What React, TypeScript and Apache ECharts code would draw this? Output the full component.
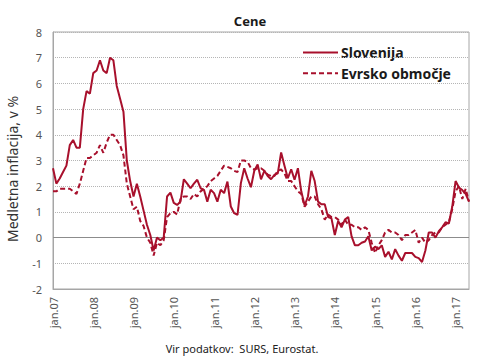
import React, { useEffect, useRef } from "react";
import * as echarts from "echarts";

const years = ["07", "08", "09", "10", "11", "12", "13", "14", "15", "16", "17"];
const monthNames = ["jan", "feb", "mar", "apr", "maj", "jun", "jul", "avg", "sep", "okt", "nov", "dec"];

const slovenija = [
  // 2007
  2.7, 2.1, 2.3, 2.55, 2.8, 3.6, 3.8, 3.5, 3.5, 5.0, 5.7, 5.6,
  // 2008
  6.4, 6.5, 6.9, 6.5, 6.4, 7.0, 6.9, 5.9, 5.4, 4.9, 3.0, 2.2,
  // 2009
  1.6, 2.1, 1.6, 1.05, 0.5, 0.1, -0.5, 0.0, -0.1, 0.0, 1.6, 1.75,
  // 2010
  1.35, 1.27, 1.4, 2.27, 2.1, 1.92, 2.1, 2.25, 1.92, 1.86, 1.4, 1.86,
  // 2011
  1.73, 1.4, 1.86, 1.73, 2.18, 1.21, 0.95, 0.88, 2.12, 2.7, 2.3, 1.96,
  // 2012
  2.6, 2.85, 2.27, 2.6, 2.4, 2.27, 2.44, 2.5, 3.31, 2.8, 2.31, 2.66,
  // 2013
  2.25, 2.7, 1.8, 1.25, 1.6, 2.6, 2.2, 1.4, 1.3, 1.3, 0.8, 0.75,
  // 2014
  0.1, 0.65, 0.4, 0.7, 0.8, 0.05, -0.3, -0.3, -0.2, -0.15, 0.05, -0.5,
  // 2015
  -0.35, -0.45, -0.3, -0.75, -0.55, -0.85, -0.45, -0.7, -0.9, -0.6, -0.6, -0.6,
  // 2016
  -0.75, -0.8, -0.95, -0.5, 0.2, 0.2, 0.0, 0.25, 0.4, 0.6, 0.55, 1.2,
  // 2017
  2.2, 1.95, 1.85, 1.7, 1.4,
];

const evrskoObmocje = [
  // 2007
  1.8, 1.8, 1.9, 1.9, 1.9, 1.9, 1.8, 1.7, 2.1, 2.6, 3.1, 3.1,
  // 2008
  3.2, 3.3, 3.6, 3.3, 3.7, 4.0, 4.0, 3.8, 3.6, 3.2, 2.1, 1.6,
  // 2009
  1.1, 1.2, 0.65, 0.45, 0.0, -0.2, -0.7, -0.2, -0.3, -0.1, 0.8, 0.95,
  // 2010
  1.0, 0.9, 1.5, 1.6, 1.6, 1.5, 1.7, 1.6, 1.8, 1.9, 2.0, 2.2,
  // 2011
  2.3, 2.4, 2.6, 2.8, 2.75, 2.7, 2.6, 2.55, 3.0, 3.0, 2.95, 2.7,
  // 2012
  2.65, 2.7, 2.7, 2.6, 2.45, 2.4, 2.4, 2.6, 2.65, 2.5, 2.2, 2.2,
  // 2013
  2.0, 1.8, 1.7, 1.2, 1.4, 1.6, 1.6, 1.3, 1.1, 0.7, 0.9, 0.8,
  // 2014
  0.8, 0.7, 0.5, 0.7, 0.5, 0.5, 0.4, 0.4, 0.3, 0.4, 0.3, -0.2,
  // 2015
  -0.6, -0.3, -0.1, 0.2, 0.3, 0.2, 0.2, 0.1, -0.1, 0.1, 0.1, 0.2,
  // 2016
  0.3, -0.2, 0.0, -0.2, -0.1, 0.1, 0.2, 0.2, 0.4, 0.5, 0.6, 1.1,
  // 2017
  1.8, 2.0, 1.5, 1.9, 1.4,
];

const seriesNames = ["Slovenija", "Evrsko območje"];
const titleText = "Cene";
const yAxisTitle = "Medletna inflacija, v %";
const sourceText = "Vir podatkov:  SURS, Eurostat.";

const categories: string[] = [];
years.forEach((y) => monthNames.forEach((m) => categories.push(`${m}.${y}`)));
const cats = categories.slice(0, slovenija.length);

const RED = "#a8102c";
const FONT = "Noto Sans";
const DASH = [5, 3];

export default function App() {
  const ref = useRef<HTMLDivElement>(null);
  useEffect(() => {
    if (!ref.current) return;
    const chart = echarts.init(ref.current, undefined, { renderer: "svg" });
    chart.setOption({
      animation: false,
      backgroundColor: "#ffffff",
      textStyle: { fontFamily: FONT },
      title: {
        text: titleText,
        left: 245,
        top: 9,
        textAlign: "center",
        textStyle: { fontFamily: FONT, fontSize: 13, fontWeight: "bold", color: "#1a1a1a" },
      },
      grid: {
        left: 53,
        right: 21,
        top: 32,
        bottom: 75,
        show: true,
        borderColor: "#a6a6a6",
        borderWidth: 1,
      },
      xAxis: {
        type: "category",
        data: cats,
        boundaryGap: false,
        axisLine: { onZero: false, lineStyle: { color: "#a6a6a6" } },
        axisTick: { show: false },
        axisLabel: {
          interval: 11,
          rotate: 90,
          margin: 8,
          fontFamily: FONT,
          fontSize: 11,
          color: "#555555",
        },
        splitLine: { show: false },
      },
      yAxis: {
        type: "value",
        min: -2,
        max: 8,
        interval: 1,
        axisLine: { show: true, lineStyle: { color: "#a6a6a6" } },
        axisTick: { show: false },
        axisLabel: { margin: 11, fontFamily: FONT, fontSize: 11, color: "#555555" },
        splitLine: { show: true, lineStyle: { color: "#b5b5b5", type: [1, 1], width: 1 } },
      },
      graphic: [
        {
          type: "text",
          x: 12,
          y: 169,
          rotation: Math.PI / 2,
          style: {
            text: yAxisTitle,
            fontFamily: FONT,
            fontSize: 14,
            fill: "#333333",
            align: "center",
            verticalAlign: "middle",
          },
        },
        {
          type: "text",
          x: 242,
          y: 348,
          style: {
            text: sourceText,
            fontFamily: FONT,
            fontSize: 11,
            fill: "#222222",
            align: "center",
            verticalAlign: "middle",
          },
        },
        {
          type: "group",
          z: 10,
          children: [
            {
              type: "rect",
              shape: { x: 292, y: 40, width: 170, height: 52 },
              style: { fill: "#ffffff" },
            },
            {
              type: "line",
              shape: { x1: 303, y1: 52.5, x2: 338, y2: 52.5 },
              style: { stroke: RED, lineWidth: 2 },
            },
            {
              type: "text",
              x: 341,
              y: 52.5,
              style: {
                text: seriesNames[0],
                fontFamily: FONT,
                fontSize: 14,
                fontWeight: "bold",
                fill: "#1a1a1a",
                align: "left",
                verticalAlign: "middle",
              },
            },
            {
              type: "line",
              shape: { x1: 303, y1: 73.3, x2: 338, y2: 73.3 },
              style: { stroke: RED, lineWidth: 2, lineDash: DASH },
            },
            {
              type: "text",
              x: 341,
              y: 73.3,
              style: {
                text: seriesNames[1],
                fontFamily: FONT,
                fontSize: 14,
                fontWeight: "bold",
                fill: "#1a1a1a",
                align: "left",
                verticalAlign: "middle",
              },
            },
          ],
        },
      ],
      series: [
        {
          name: seriesNames[0],
          type: "line",
          data: slovenija,
          symbol: "none",
          lineStyle: { color: RED, width: 2 },
          itemStyle: { color: RED },
          z: 3,
          markLine: {
            silent: true,
            symbol: "none",
            label: { show: false },
            lineStyle: { color: "#8c8c8c", width: 1, type: "solid" },
            data: [{ yAxis: 0 }],
            z: 1,
          },
        },
        {
          name: seriesNames[1],
          type: "line",
          data: evrskoObmocje,
          symbol: "none",
          lineStyle: { color: RED, width: 2, type: DASH },
          itemStyle: { color: RED },
          z: 2,
        },
      ],
    });
    return () => chart.dispose();
  }, []);
  return <div ref={ref} style={{ position: "fixed", left: 0, top: 0, width: 490, height: 364 }} />;
}
